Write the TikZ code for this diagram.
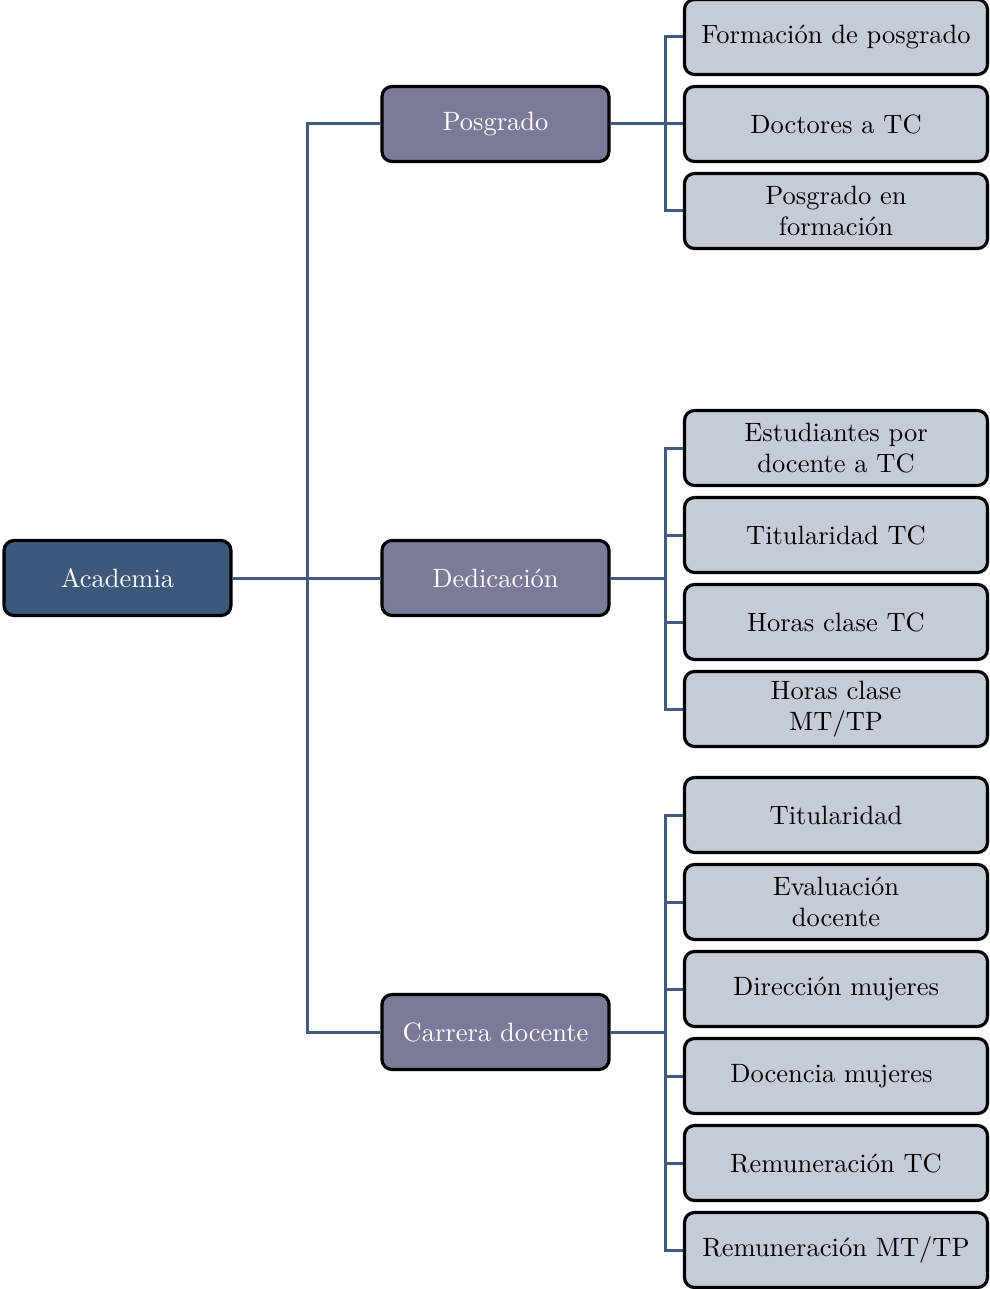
\documentclass[tikz,border=0pt]{standalone}
\usepackage{fontspec}
\setmainfont{lmroman10-regular.otf}[BoldFont=lmroman10-bold.otf,ItalicFont=lmroman10-italic.otf]
\definecolor{rootc}{RGB}{61,88,122}
\definecolor{midc}{RGB}{122,123,152}
\definecolor{leafc}{RGB}{197,204,214}
\definecolor{linec}{RGB}{67,90,126}
\begin{document}
\begin{tikzpicture}[x=1pt,y=-1pt,
  base/.style={draw=black, line width=3.2pt, rounded corners=10pt, inner sep=0pt, align=center,
    font=\fontsize{26.5}{31}\selectfont},
  rootbox/.style={base, fill=rootc, text=white, minimum width=227pt, minimum height=75pt},
  midbox/.style={base, fill=midc, text=white, minimum width=227pt, minimum height=75pt},
  leafbox/.style={base, fill=leafc, text=black, minimum width=303pt, minimum height=75pt},
  conn/.style={draw=linec, line width=3pt}]
\useasboundingbox (0,0) rectangle (989,1289);
\coordinate (trunkT) at (307,124);
\coordinate (trunkB) at (307,1032);
\coordinate (busP) at (665,124);
\coordinate (busD) at (665,578);
\coordinate (busC) at (665,1032);

\node[rootbox] (root) at (117.5,578) {Academia};
\node[midbox] (pos) at (495.5,124) {Posgrado};
\node[midbox] (ded) at (495.5,578) {Dedicación};
\node[midbox] (car) at (495.5,1032) {Carrera docente};

\node[leafbox] (p1) at (836,37) {Formación de posgrado};
\node[leafbox] (p2) at (836,124) {Doctores a TC};
\node[leafbox] (p3) at (836,211) {Posgrado en\\formación};

\node[leafbox] (d1) at (836,448) {Estudiantes por\\docente a TC};
\node[leafbox] (d2) at (836,535) {Titularidad TC};
\node[leafbox] (d3) at (836,622) {Horas clase TC};
\node[leafbox] (d4) at (836,709) {Horas clase\\MT/TP};

\node[leafbox] (c1) at (836,815) {Titularidad};
\node[leafbox] (c2) at (836,902) {Evaluación\\docente};
\node[leafbox] (c3) at (836,989) {Dirección mujeres};
\node[leafbox] (c4) at (836,1076) {Docencia mujeres\hspace*{9pt}};
\node[leafbox] (c5) at (836,1163) {Remuneración TC};
\node[leafbox] (c6) at (836,1250) {Remuneración MT/TP};

% trunk
\draw[conn] (root.east) -- (ded.west);
\draw[conn] (pos.west) -- (trunkT) -- (trunkB) -- (car.west);
% buses
\draw[conn] (pos.east) -- (busP);
\draw[conn] (ded.east) -- (busD);
\draw[conn] (car.east) -- (busC);
\draw[conn] (p1.west) -| (busP) |- (p3.west);
\draw[conn] (busP) -- (p2.west);
\draw[conn] (d1.west) -| (busD) |- (d4.west);
\draw[conn] (d2.west) -| (busD);
\draw[conn] (d3.west) -| (busD);
\draw[conn] (c1.west) -| (busC) |- (c6.west);
\foreach \n in {c2,c3,c4,c5} \draw[conn] (\n.west) -| (busC);
\end{tikzpicture}
\end{document}
